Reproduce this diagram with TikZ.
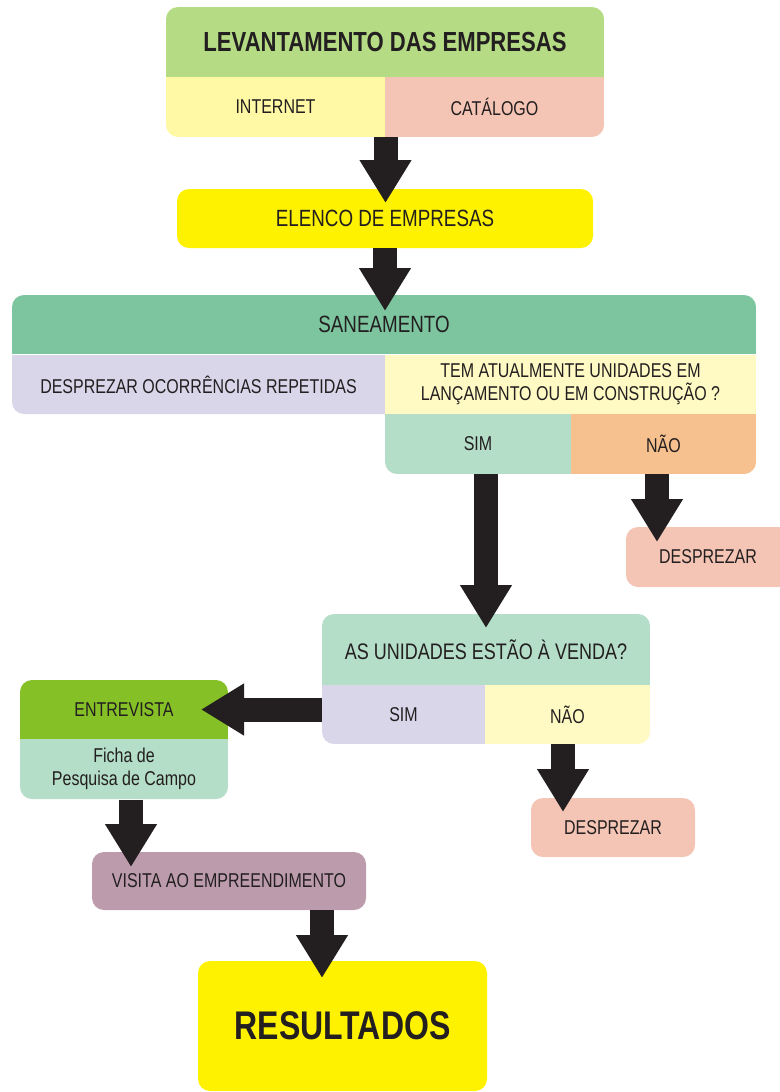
\documentclass[tikz,border=0pt]{standalone}
\usepackage{fontspec}
\setmainfont{Liberation Sans}[FakeStretch=0.8]
\usetikzlibrary{arrows.meta,calc}
\definecolor{txtgray}{RGB}{35,31,32}
\definecolor{arrowblk}{RGB}{35,31,32}
\definecolor{cgreenl}{RGB}{181,220,132}
\definecolor{cyellowl}{RGB}{255,249,166}
\definecolor{csalmon}{RGB}{244,196,180}
\definecolor{cyellow}{RGB}{255,242,0}
\definecolor{cgreenm}{RGB}{124,197,159}
\definecolor{clav}{RGB}{218,214,234}
\definecolor{cyellowp}{RGB}{255,250,196}
\definecolor{cmint}{RGB}{180,222,200}
\definecolor{corange}{RGB}{246,193,142}
\definecolor{cgreenv}{RGB}{133,193,38}
\definecolor{cmauve}{RGB}{188,156,172}
\begin{document}
\begin{tikzpicture}[x=1pt,y=-1pt,
  every node/.style={text=txtgray, font=\fontsize{20}{23}\selectfont, align=center},
  part/.style={inner sep=0pt, outer sep=0pt},
  rbox/.style={inner sep=0pt, outer sep=0pt, rounded corners=12pt},
  bigtext/.style={font=\fontsize{23.5}{27}\selectfont},
  titlefont/.style={font=\fontsize{27.6}{30}\selectfont\bfseries},
  bigarrow/.style={draw=arrowblk, line width=24pt, -{Triangle[width=49pt,length=43pt]}}]
\useasboundingbox (0,0) rectangle (779,1092);

% --- Levantamento das empresas
\begin{scope}
  \clip[rounded corners=12pt] (166,7) rectangle (604,137);
  \node[part, fill=cgreenl, minimum width=440pt, minimum height=70pt, titlefont] (lev) at (385,42) {LEVANTAMENTO DAS EMPRESAS};
  \node[part, fill=cyellowl, minimum width=220pt, minimum height=60pt] (internet) at (275.5,107) {INTERNET};
  \node[part, fill=csalmon, minimum width=219pt, minimum height=60pt] (catalogo) at (494.5,107) {CATÁLOGO};
\end{scope}

% --- Elenco
\node[rbox, fill=cyellow, minimum width=416pt, minimum height=59pt, bigtext] (elenco) at (385,218.5) {ELENCO DE EMPRESAS};

% --- Saneamento
\begin{scope}
  \clip[rounded corners=12pt] (12,295) rectangle (756,414) (385,350) rectangle (756,474);
  \node[part, fill=cgreenm, minimum width=746pt, minimum height=59pt, bigtext] (san) at (384,324.5) {SANEAMENTO};
  \node[part, fill=clav, minimum width=374pt, minimum height=60pt] (rep) at (198.5,384.5) {DESPREZAR OCORRÊNCIAS REPETIDAS};
  \node[part, fill=cyellowp, minimum width=372pt, minimum height=60pt] (tem) at (570.5,384.5) {TEM ATUALMENTE UNIDADES EM\\LANÇAMENTO OU EM CONSTRUÇÃO ?};
  \node[part, fill=cmint, minimum width=187pt, minimum height=60pt] (sim1) at (478,444) {SIM};
  \node[part, fill=corange, minimum width=186pt, minimum height=60pt] (nao1) at (663.5,444) {NÃO};
\end{scope}

\node[rbox, fill=csalmon, minimum width=164pt, minimum height=60pt] (desp1) at (708,557) {DESPREZAR};

% --- As unidades estão à venda?
\begin{scope}
  \clip[rounded corners=12pt] (322,614) rectangle (650,744);
  \node[part, fill=cmint, minimum width=330pt, minimum height=71pt, font=\fontsize{22.5}{26}\selectfont] (asun) at (486,649.5) {AS UNIDADES ESTÃO À VENDA?};
  \node[part, fill=clav, minimum width=164pt, minimum height=59pt] (assim) at (403.5,714.5) {SIM};
  \node[part, fill=cyellowp, minimum width=166pt, minimum height=59pt] (asnao) at (567.5,714.5) {NÃO};
\end{scope}

\node[rbox, fill=csalmon, minimum width=164pt, minimum height=59pt] (desp2) at (613,827.5) {DESPREZAR};

% --- Entrevista
\begin{scope}
  \clip[rounded corners=12pt] (20,680) rectangle (228,799);
  \node[part, fill=cgreenv, minimum width=210pt, minimum height=59pt] (entre) at (124,709.5) {ENTREVISTA};
  \node[part, fill=cmint, minimum width=210pt, minimum height=61pt] (ficha) at (124,769) {Ficha de\\Pesquisa de Campo};
\end{scope}

\node[rbox, fill=cmauve, minimum width=274pt, minimum height=58pt] (visita) at (229,881) {VISITA AO EMPREENDIMENTO};

\node[rbox, fill=cyellow, minimum width=289pt, minimum height=130pt, font=\fontsize{40}{44}\selectfont\bfseries] (res) at (342.5,1026) {RESULTADOS};

% --- connectors
\draw[bigarrow, shorten >=-14pt] (internet.south east) -- (internet.south east |- elenco.north);
\draw[bigarrow, shorten >=-16pt] (elenco.south) -- (elenco.south |- san.north);
\draw[bigarrow, shorten >=-14pt] (sim1.south -| asun.north) -- (asun.north);
\coordinate (n1s) at ($(nao1.south)+(-6.5,0)$);
\draw[bigarrow, shorten >=-15pt] (n1s) -- (n1s |- desp1.north);
\draw[bigarrow, shorten >=-28pt] (assim.west |- entre.east) -- (entre.east);
\coordinate (n2s) at ($(asnao.south)+(-4.5,0)$);
\draw[bigarrow, shorten >=-14pt] (n2s) -- (n2s |- desp2.north);
\coordinate (fs) at ($(ficha.south)+(7,0)$);
\draw[bigarrow, shorten >=-15pt] (fs) -- (fs |- visita.north);
\coordinate (vs) at ($(visita.south)+(93,0)$);
\draw[bigarrow, shorten >=-17pt] (vs) -- (vs |- res.north);
\end{tikzpicture}
\end{document}
